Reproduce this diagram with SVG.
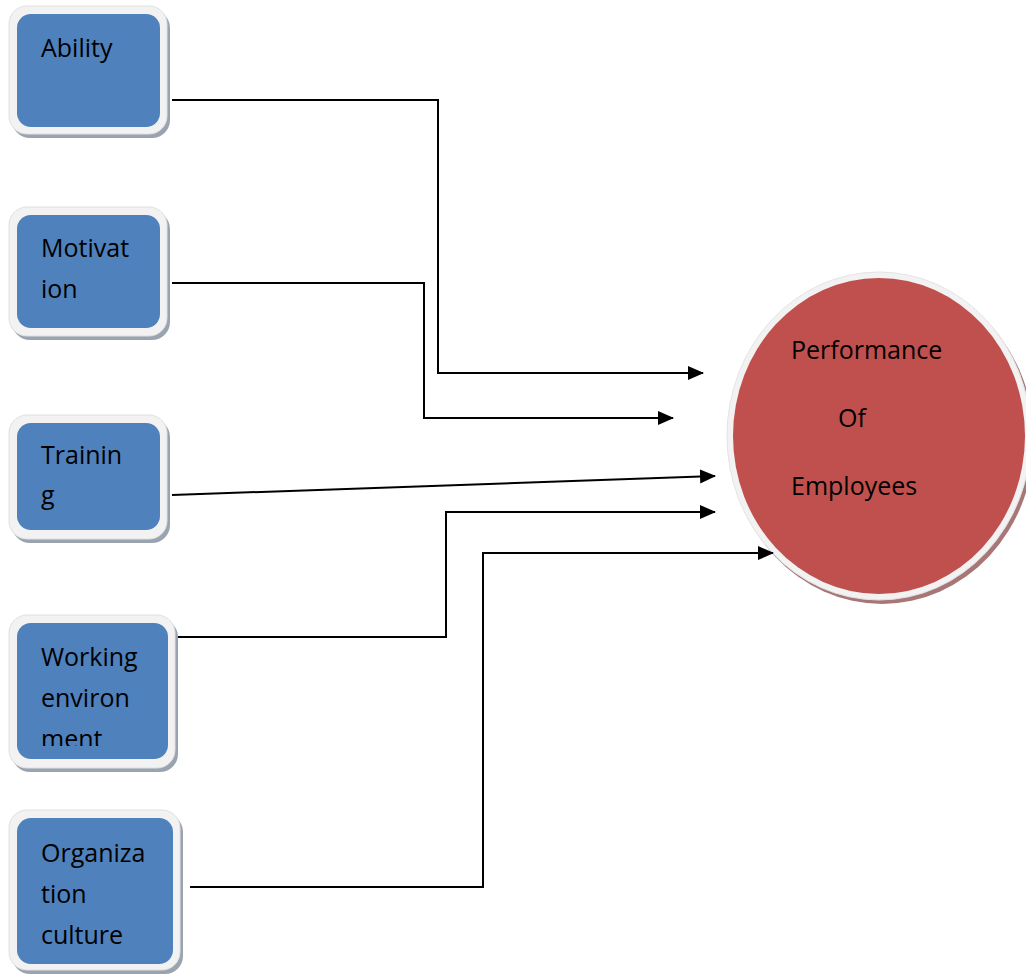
<svg xmlns="http://www.w3.org/2000/svg" width="1026" height="975" viewBox="0 0 1026 975">
<style>
.shadow{fill:#9aa3b0;}
.frame{fill:#f2f2f2;stroke:#e0e0e0;stroke-width:1;}
.box{fill:#4f81bd;}
.lbl{font-family:"Open Sans","Liberation Sans",sans-serif;font-size:25px;fill:#000;}
.conn{fill:none;stroke:#000;stroke-width:2;}
</style>
<defs>
<marker id="arr" markerWidth="16" markerHeight="14" refX="15" refY="7" orient="auto" markerUnits="userSpaceOnUse">
<path d="M0,0 L16,7 L0,14 Z" fill="#000"/>
</marker>
<clipPath id="clipW"><rect x="17" y="623" width="151" height="123"/></clipPath>
</defs>
<rect width="1026" height="975" fill="#fff"/>
<g id="ability">
<rect class="shadow" x="12" y="10" width="158" height="128" rx="18"/>
<rect class="frame" x="9" y="6" width="158" height="128" rx="18"/>
<rect class="box" x="17" y="14" width="143" height="113" rx="14"/>
<text class="lbl" x="41" y="57">Ability</text>
</g>
<g id="motivation">
<rect class="shadow" x="12" y="211" width="158" height="129" rx="18"/>
<rect class="frame" x="9" y="207" width="158" height="129" rx="18"/>
<rect class="box" x="17" y="215" width="143" height="113" rx="14"/>
<text class="lbl" x="41" y="257">Motivat</text>
<text class="lbl" x="41" y="298">ion</text>
</g>
<g id="training">
<rect class="shadow" x="12" y="419" width="158" height="124" rx="18"/>
<rect class="frame" x="9" y="415" width="158" height="124" rx="18"/>
<rect class="box" x="17" y="423" width="143" height="107" rx="14"/>
<text class="lbl" x="41" y="464">Trainin</text>
<text class="lbl" x="41" y="504">g</text>
</g>
<g id="working">
<rect class="shadow" x="12" y="619" width="166" height="153" rx="18"/>
<rect class="frame" x="9" y="615" width="166" height="153" rx="18"/>
<rect class="box" x="17" y="623" width="151" height="136" rx="14"/>
<g clip-path="url(#clipW)">
<text class="lbl" x="41" y="666">Working</text>
<text class="lbl" x="41" y="707">environ</text>
<text class="lbl" x="41" y="748">ment</text>
</g>
</g>
<g id="organization">
<rect class="shadow" x="12" y="814" width="171" height="160" rx="18"/>
<rect class="frame" x="9" y="810" width="171" height="160" rx="18"/>
<rect class="box" x="17" y="818" width="156" height="146" rx="14"/>
<text class="lbl" x="41" y="862">Organiza</text>
<text class="lbl" x="41" y="903">tion</text>
<text class="lbl" x="41" y="944">culture</text>
</g>
<g id="performance">
<ellipse cx="882" cy="440" rx="152" ry="164" fill="#a87676"/>
<ellipse cx="879" cy="436" rx="152" ry="164" fill="#f2f2f2" stroke="#e4e4e4" stroke-width="1"/>
<ellipse cx="879" cy="436" rx="146" ry="158" fill="#c0504d"/>
<text class="lbl" x="791" y="359">Performance</text>
<text class="lbl" x="838" y="427">Of</text>
<text class="lbl" x="791" y="495">Employees</text>
</g>
<g id="connectors">
<polyline class="conn" points="172,100 438,100 438,373 703,373" marker-end="url(#arr)"/>
<polyline class="conn" points="172,283 424,283 424,418 673,418" marker-end="url(#arr)"/>
<polyline class="conn" points="172,495 715,476" marker-end="url(#arr)"/>
<polyline class="conn" points="178,637 446,637 446,512 715,512" marker-end="url(#arr)"/>
<polyline class="conn" points="190,887 483,887 483,553 773,553" marker-end="url(#arr)"/>
</g>
</svg>
